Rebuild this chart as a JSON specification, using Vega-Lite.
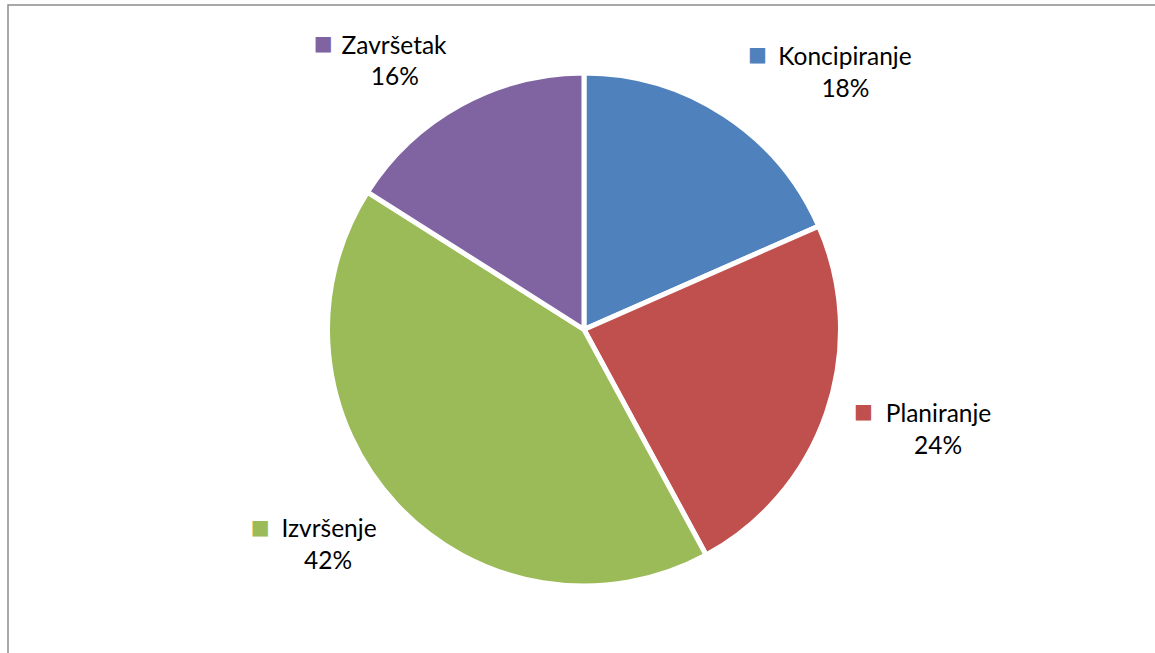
{
  "$schema": "https://vega.github.io/schema/vega-lite/v6.json",
  "width": 1152,
  "height": 649,
  "autosize": {"type": "none"},
  "padding": {"left": 8, "top": 5, "right": -5, "bottom": -1},
  "background": "white",
  "view": {"stroke": "#8c8c8c", "strokeWidth": 1.5},
  "config": {
    "view": {"stroke": "#8c8c8c", "strokeWidth": 1.5},
    "text": {"font": "Lato", "fontSize": 24.5}
  },
  "data": {
    "values": [
      {"cat": "Koncipiranje", "value": 0.184, "idx": 1},
      {"cat": "Planiranje", "value": 0.237, "idx": 2},
      {"cat": "Izvršenje", "value": 0.419, "idx": 3},
      {"cat": "Završetak", "value": 0.16, "idx": 4}
    ]
  },
  "encoding": {
    "theta": {"field": "value", "type": "quantitative", "stack": true},
    "order": {"field": "idx", "type": "quantitative"}
  },
  "layer": [
    {
      "mark": {"type": "arc", "radius": 256.5, "stroke": "white", "strokeWidth": 5},
      "encoding": {
        "color": {"field": "cat", "type": "nominal", "legend": null,
          "scale": {"domain": ["Koncipiranje", "Planiranje", "Izvršenje", "Završetak"], "range": ["#4F81BD", "#C0504D", "#9BBB59", "#8064A2"]}}
      }
    },
    {
      "mark": {"type": "text", "radius": 350, "dx": 69.7, "dy": 28.5, "align": "center", "baseline": "alphabetic", "color": "#000"},
      "encoding": {"text": {"field": "cat"}, "opacity": {"condition": {"test": "datum.cat === 'Koncipiranje'", "value": 1}, "value": 0}}
    },
    {
      "mark": {"type": "text", "radius": 350, "dx": 70.2, "dy": 60.5, "align": "center", "baseline": "alphabetic", "color": "#000"},
      "encoding": {"text": {"field": "value", "type": "quantitative", "format": ".0%"}, "opacity": {"condition": {"test": "datum.cat === 'Koncipiranje'", "value": 1}, "value": 0}}
    },
    {
      "mark": {"type": "text", "radius": 350, "dx": -17.7, "dy": 19.1, "align": "center", "baseline": "middle", "font": "DejaVu Sans", "fontSize": 20},
      "encoding": {"text": {"value": "■"}, "color": {"field": "cat", "type": "nominal", "legend": null}, "opacity": {"condition": {"test": "datum.cat === 'Koncipiranje'", "value": 1}, "value": 0}}
    },
    {
      "mark": {"type": "text", "radius": 350, "dx": 23.4, "dy": -20.9, "align": "center", "baseline": "alphabetic", "color": "#000"},
      "encoding": {"text": {"field": "cat"}, "opacity": {"condition": {"test": "datum.cat === 'Planiranje'", "value": 1}, "value": 0}}
    },
    {
      "mark": {"type": "text", "radius": 350, "dx": 22.9, "dy": 11.1, "align": "center", "baseline": "alphabetic", "color": "#000"},
      "encoding": {"text": {"field": "value", "type": "quantitative", "format": ".0%"}, "opacity": {"condition": {"test": "datum.cat === 'Planiranje'", "value": 1}, "value": 0}}
    },
    {
      "mark": {"type": "text", "radius": 350, "dx": -51.6, "dy": -30.7, "align": "center", "baseline": "middle", "font": "DejaVu Sans", "fontSize": 20},
      "encoding": {"text": {"value": "■"}, "color": {"field": "cat", "type": "nominal", "legend": null}, "opacity": {"condition": {"test": "datum.cat === 'Planiranje'", "value": 1}, "value": 0}}
    },
    {
      "mark": {"type": "text", "radius": 350, "dx": 0.9, "dy": -31.5, "align": "center", "baseline": "alphabetic", "color": "#000"},
      "encoding": {"text": {"field": "cat"}, "opacity": {"condition": {"test": "datum.cat === 'Izvršenje'", "value": 1}, "value": 0}}
    },
    {
      "mark": {"type": "text", "radius": 350, "dx": -0.1, "dy": 0.5, "align": "center", "baseline": "alphabetic", "color": "#000"},
      "encoding": {"text": {"field": "value", "type": "quantitative", "format": ".0%"}, "opacity": {"condition": {"test": "datum.cat === 'Izvršenje'", "value": 1}, "value": 0}}
    },
    {
      "mark": {"type": "text", "radius": 350, "dx": -67.9, "dy": -40.5, "align": "center", "baseline": "middle", "font": "DejaVu Sans", "fontSize": 20},
      "encoding": {"text": {"value": "■"}, "color": {"field": "cat", "type": "nominal", "legend": null}, "opacity": {"condition": {"test": "datum.cat === 'Izvršenje'", "value": 1}, "value": 0}}
    },
    {
      "mark": {"type": "text", "radius": 350, "dx": -21.3, "dy": 31.1, "align": "center", "baseline": "alphabetic", "color": "#000"},
      "encoding": {"text": {"field": "cat"}, "opacity": {"condition": {"test": "datum.cat === 'Završetak'", "value": 1}, "value": 0}}
    },
    {
      "mark": {"type": "text", "radius": 350, "dx": -20.6, "dy": 62.6, "align": "center", "baseline": "alphabetic", "color": "#000"},
      "encoding": {"text": {"field": "value", "type": "quantitative", "format": ".0%"}, "opacity": {"condition": {"test": "datum.cat === 'Završetak'", "value": 1}, "value": 0}}
    },
    {
      "mark": {"type": "text", "radius": 350, "dx": -92.2, "dy": 21.4, "align": "center", "baseline": "middle", "font": "DejaVu Sans", "fontSize": 20},
      "encoding": {"text": {"value": "■"}, "color": {"field": "cat", "type": "nominal", "legend": null}, "opacity": {"condition": {"test": "datum.cat === 'Završetak'", "value": 1}, "value": 0}}
    }
  ]
}
